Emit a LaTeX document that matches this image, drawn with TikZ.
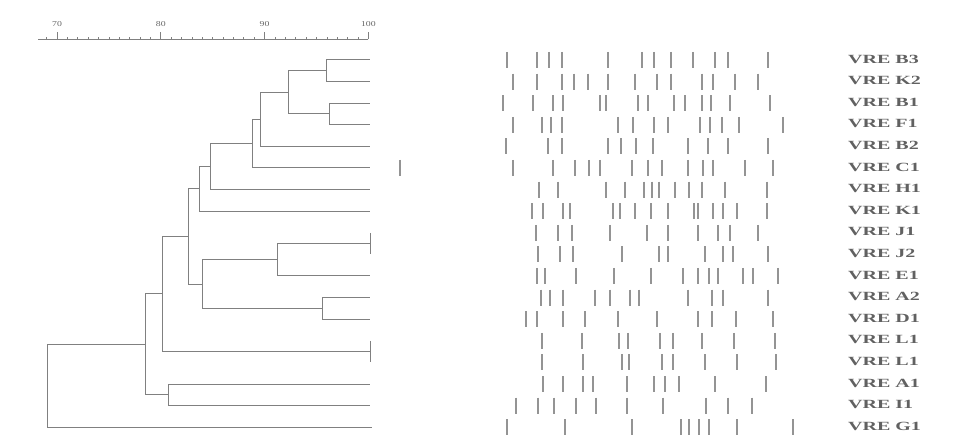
\documentclass[tikz,border=0pt]{standalone}
\usepackage{fontspec}
\setmainfont{Liberation Serif}
\usepackage{graphicx}

\begin{document}
\begin{tikzpicture}[x=1pt, y=-1pt,
    tree/.style={draw=black!50, line width=1pt},
    band/.style={draw=black!42, line width=1.7pt},
    strain/.style={anchor=west, inner sep=0pt, text=black!62, font=\bfseries\fontsize{12.5}{13}\selectfont},
    tck/.style={draw=black!50, line width=0.7pt},
    scl/.style={font=\fontsize{7.5}{8}\selectfont, text=black!60, inner sep=0pt}
]
\useasboundingbox (0,0) rectangle (960,435);

% similarity scale
\coordinate (axL) at (38.3,39.5);
\coordinate (axR) at (368.3,39.5);
\draw[tck] (axL) -- (axR);
\foreach \s in {69,...,99}
    \draw[tck] ({57+(\s-70)*10.38},39.5) -- ++(0,-2.8);
\foreach \s in {70,80,90,100} {
    \draw[tck] ({57+(\s-70)*10.38},39.5) -- ++(0,-7.5);
    \node[scl] (sc\s) at ({57+(\s-70)*10.38},24) {\scalebox{1.3}[1]{\s}};
}

% strain names
\foreach \i/\nm in {0/B3,1/K2,2/B1,3/F1,4/B2,5/C1,6/H1,7/K1,8/J1,9/J2,
                    10/E1,11/A2,12/D1,13/L1,14/L1,15/A1,16/I1,17/G1}
    \node[strain] (lbl\i) at (848,{59+21.6*\i}) {\scalebox{1.6}[1]{VRE \nm}};

% band patterns
\foreach \i/\xs in {
    0/{507,537,549,562,608,642,654,671,693,715,728,768},
    1/{513,537,562,574,588,608,635,657,671,702,713,735,758},
    2/{503,533,553,563,600,606,638,648,674,685,702,711,730,770},
    3/{513,542,551,562,618,633,654,668,700,710,722,739,783},
    4/{506,548,562,608,621,636,653,688,708,728,768},
    5/{400,513,553,575,589,600,632,648,662,688,703,713,745,773},
    6/{539,558,606,625,644,652,659,675,689,702,725,767},
    7/{532,543,563,570,613,620,635,651,668,694,698,713,723,737,767},
    8/{536,558,572,610,647,668,698,718,730,758},
    9/{538,560,573,622,659,668,705,723,733,768},
    10/{537,545,576,614,651,683,698,709,718,743,753,778},
    11/{541,550,563,595,610,630,639,688,712,723,768},
    12/{526,537,563,585,618,657,698,712,736,773},
    13/{542,582,619,628,660,673,702,734,775},
    14/{542,583,622,629,662,673,705,737,776},
    15/{543,563,583,593,627,654,665,679,715,766},
    16/{516,538,554,576,596,627,663,706,728,752},
    17/{507,565,632,681,689,699,709,737,793}}
    \foreach \x in \xs
        \draw[band] (\x,{60+21.6*\i-8}) -- ++(0,16);

% leaves
\coordinate (B3) at (370,60);
\coordinate (K2) at (370,81.6);
\coordinate (B1) at (370,103.2);
\coordinate (F1) at (370,124.8);
\coordinate (B2) at (370,146.4);
\coordinate (C1) at (370,168);
\coordinate (H1) at (370,189.6);
\coordinate (K1) at (370,211.2);
\coordinate (J1) at (370,232.8);
\coordinate (J2) at (370,254.4);
\coordinate (J) at (370,243.6);
\coordinate (E1) at (370,276);
\coordinate (A2) at (370,297.6);
\coordinate (D1) at (370,319.2);
\coordinate (La) at (370,340.8);
\coordinate (Lb) at (370,362.4);
\coordinate (L) at (370,351.6);
\coordinate (A1) at (370,384);
\coordinate (I1) at (370,405.6);
\coordinate (G1) at (372,427.2);

% joins
\coordinate (n1) at (326,70.8);
\coordinate (n2) at (329,114);
\coordinate (n3) at (288,92.4);
\coordinate (n4) at (260,119.4);
\coordinate (n5) at (252,143.7);
\coordinate (n6) at (210,166.6);
\coordinate (n7) at (199,188.9);
\coordinate (n8) at (277,259.8);
\coordinate (n9) at (322,308.4);
\coordinate (n10) at (202,284.1);
\coordinate (n11) at (188,236.5);
\coordinate (n12) at (162,294);
\coordinate (n13) at (168,394.8);
\coordinate (n14) at (145,344.4);
\coordinate (root) at (47,385.8);

\draw[tree] (n1) |- (B3);  \draw[tree] (n1) |- (K2);
\draw[tree] (n2) |- (B1);  \draw[tree] (n2) |- (F1);
\draw[tree] (n3) |- (n1);  \draw[tree] (n3) |- (n2);
\draw[tree] (n4) |- (n3);  \draw[tree] (n4) |- (B2);
\draw[tree] (n5) |- (n4);  \draw[tree] (n5) |- (C1);
\draw[tree] (n6) |- (n5);  \draw[tree] (n6) |- (H1);
\draw[tree] (n7) |- (n6);  \draw[tree] (n7) |- (K1);
\draw[tree] (n8) |- (J);   \draw[tree] (n8) |- (E1);
\draw[tree] (n9) |- (A2);  \draw[tree] (n9) |- (D1);
\draw[tree] (n10) |- (n8); \draw[tree] (n10) |- (n9);
\draw[tree] (n11) |- (n7); \draw[tree] (n11) |- (n10);
\draw[tree] (n12) |- (n11); \draw[tree] (n12) |- (L);
\draw[tree] (n13) |- (A1); \draw[tree] (n13) |- (I1);
\draw[tree] (n14) |- (n12); \draw[tree] (n14) |- (n13);
\draw[tree] (root) |- (n14); \draw[tree] (root) |- (G1);
\draw[tree] (J1) -- (J2);
\draw[tree] (La) -- (Lb);
\end{tikzpicture}
\end{document}
